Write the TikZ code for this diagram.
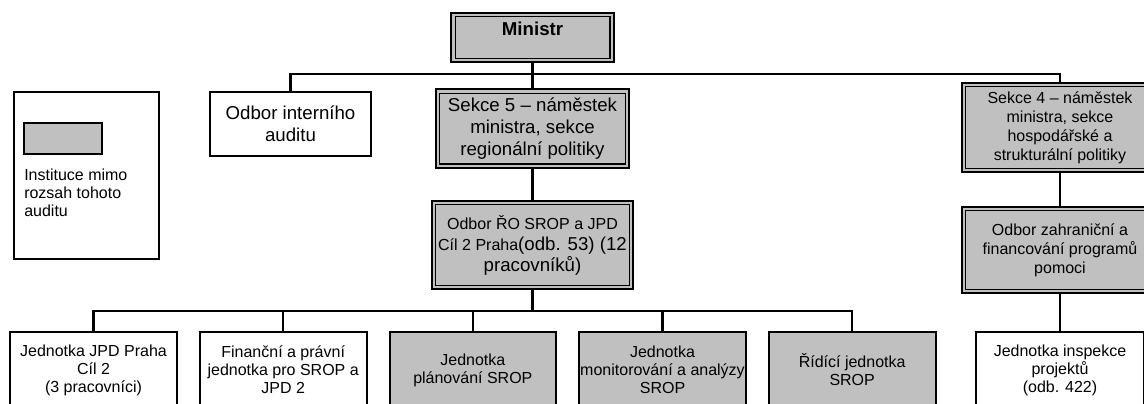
\documentclass[tikz,border=0pt]{standalone}
\usepackage{fontspec}
\setmainfont{Liberation Sans}
\usetikzlibrary{positioning}
\definecolor{cgrey}{HTML}{C0C0C0}
\newcommand{\bigtxt}{\fontsize{14pt}{16.5pt}\selectfont}
\newcommand{\smalltxt}{\fontsize{12pt}{13.5pt}\selectfont}
\tikzset{
  every picture/.style={x=0.75pt, y=-0.75pt},
  box/.style={draw, fill=white, line width=1.5pt, align=center, inner sep=2pt, font=\smalltxt},
  greybox/.style={box, fill=cgrey, line width=1.9pt,
    path picture={\draw[line width=0.8pt]
      ([shift={(2.9pt,2.9pt)}]path picture bounding box.south west) rectangle
      ([shift={(-2.9pt,-2.9pt)}]path picture bounding box.north east);}},
  unit/.style={box, minimum width=125pt, minimum height=57pt},
  link/.style={line width=1.6pt},
}

\begin{document}
\begin{tikzpicture}[node distance=15.75pt]
  \useasboundingbox (0,0) rectangle (1144,403);
  % legend
  \node[box, minimum width=108.75pt, minimum height=125.25pt] (legend) at (86.5,175.5) {};
  \node[draw, fill=cgrey, line width=1.5pt, minimum width=58.5pt, minimum height=23.25pt] (sample) at (63,138.5) {};
  \node[anchor=base west, align=left, inner sep=0pt, font=\smalltxt] (legendtext) at (24,216) {Instituce mimo\\rozsah tohoto\\auditu};
  % top levels
  \node[greybox, font=\bigtxt\bfseries, minimum width=122pt, minimum height=37pt, text depth=13pt] (minister) at (532.5,37.5) {Ministr};
  \node[box, font=\bigtxt, minimum width=121pt, minimum height=48pt] (audit) at (290.5,124) {Odbor interního\\auditu};
  \node[greybox, font=\bigtxt, minimum width=145pt, minimum height=59pt] (sekce5) at (532.5,128.5) {Sekce 5 -- náměstek\\ministra, sekce\\regionální politiky};
  \node[greybox, font=\fontsize{12pt}{15.75pt}\selectfont, minimum width=151pt, minimum height=66pt] (odborRO) at (532.5,245)
    {Odbor ŘO SROP a JPD\\Cíl 2 Praha{\bigtxt(odb. 53) (12}\\{\bigtxt pracovníků)}};
  \node[greybox, font=\fontsize{12pt}{14.25pt}\selectfont, minimum width=147pt, minimum height=67pt] (sekce4) at (1060,127.5)
    {Sekce 4 -- náměstek\\ministra, sekce\\hospodářské a\\strukturální politiky};
  \node[greybox, font=\fontsize{12pt}{14.25pt}\selectfont, minimum width=147pt, minimum height=64.5pt] (odborZ) at (1060,250)
    {Odbor zahraniční a\\financování programů\\pomoci};
  % units
  \node[unit] (jpd) at (93.5,370) {Jednotka JPD Praha\\Cíl 2\\(3 pracovníci)};
  \node[unit, right=of jpd] (financni) {Finanční a právní\\jednotka pro SROP a\\JPD 2};
  \node[unit, fill=cgrey, right=of financni] (planovani) {Jednotka\\plánování SROP};
  \node[unit, fill=cgrey, right=of planovani, inner sep=0pt] (monitor) {Jednotka\\monitorování a analýzy\\SROP};
  \node[unit, fill=cgrey, right=of monitor] (ridici) {Řídící jednotka\\SROP};
  \node[unit, minimum width=126pt] (inspekce) at (1060,370) {Jednotka inspekce\\projektů\\(odb. 422)};
  % connectors
  \coordinate (topbus) at (532.5,74);
  \coordinate (lowbus) at (532.5,311);
  \draw[link] (minister) -- (topbus);
  \draw[link] (audit.north) |- (topbus) -| (sekce4.north);
  \draw[link] (topbus) -- (sekce5);
  \draw[link] (sekce5) -- (odborRO);
  \draw[link] (sekce4) -- (odborZ);
  \draw[link] (odborZ) -- (inspekce);
  \draw[link] (odborRO) -- (lowbus);
  \draw[link] (jpd.north) |- (lowbus) -| (ridici.north);
  \draw[link] (financni.north) -- (financni.north |- lowbus);
  \draw[link] (planovani.north) -- (planovani.north |- lowbus);
  \draw[link] (monitor.north) -- (monitor.north |- lowbus);
\end{tikzpicture}
\end{document}
